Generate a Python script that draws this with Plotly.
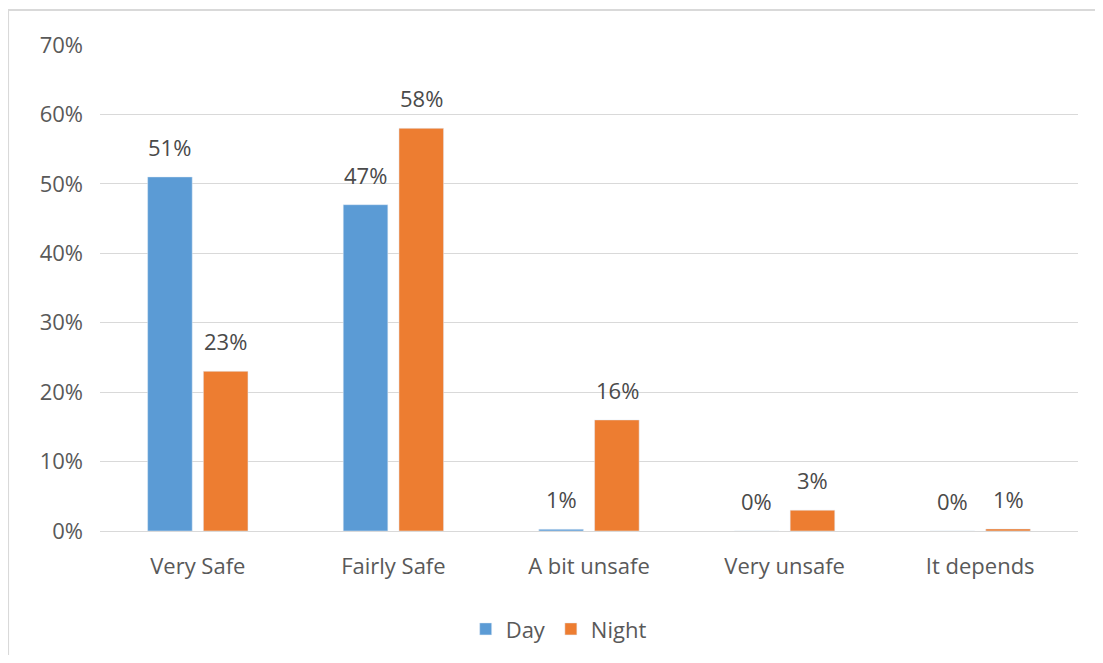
import plotly.graph_objects as go

categories = ["Very Safe", "Fairly Safe", "A bit unsafe", "Very unsafe", "It depends"]
day_values = [51, 47, 0.25, 0, 0]
night_values = [23, 58, 16, 3, 0.3]
day_labels = ["51%", "47%", "1%", "0%", "0%"]
night_labels = ["23%", "58%", "16%", "3%", "1%"]
y_ticks = [0, 10, 20, 30, 40, 50, 60, 70]
y_tick_text = ["0%", "10%", "20%", "30%", "40%", "50%", "60%", "70%"]

font_name = "Open Sans, Lato, sans-serif"
text_color = "#595959"
fsize = 22

fig = go.Figure()
fig.add_trace(go.Bar(x=categories, y=day_values, name="Day", marker_color="#5b9bd5"))
fig.add_trace(go.Bar(x=categories, y=night_values, name="Night", marker_color="#ed7d31"))

# data labels above each bar
for cat, val, lab in zip(categories, day_values, day_labels):
    fig.add_annotation(x=cat, y=val, text=lab, xshift=-28, yshift=30, showarrow=False,
                       yanchor="middle", font=dict(size=fsize, color="#4a4a4a", family=font_name))
for cat, val, lab in zip(categories, night_values, night_labels):
    fig.add_annotation(x=cat, y=val, text=lab, xshift=28, yshift=30, showarrow=False,
                       yanchor="middle", font=dict(size=fsize, color="#4a4a4a", family=font_name))

# chart border
fig.add_shape(type="rect", xref="paper", yref="paper", x0=-0.094, x1=1.2, y0=-0.4, y1=1.072,
              line=dict(color="#d9d9d9", width=2))

fig.update_layout(
    width=1087, height=647,
    margin=dict(l=92, r=17, t=37, b=124),
    plot_bgcolor="white", paper_bgcolor="white",
    barmode="group", bargap=0.43, bargroupgap=0.2,
    font=dict(family=font_name, size=fsize, color=text_color),
    legend=dict(orientation="h", x=0.469, xanchor="center", yref="container", y=0.04,
                yanchor="middle", font=dict(size=fsize, color=text_color)),
)
fig.update_yaxes(range=[0, 70], tickvals=y_ticks, ticktext=y_tick_text, showgrid=True,
                 gridcolor="#d9d9d9", gridwidth=1, zeroline=False, showline=False,
                 ticklabelstandoff=16, automargin=False)
fig.update_xaxes(showline=True, linecolor="#d9d9d9", linewidth=1, ticklabelstandoff=16,
                 automargin=False)

fig.write_html("out.html")
